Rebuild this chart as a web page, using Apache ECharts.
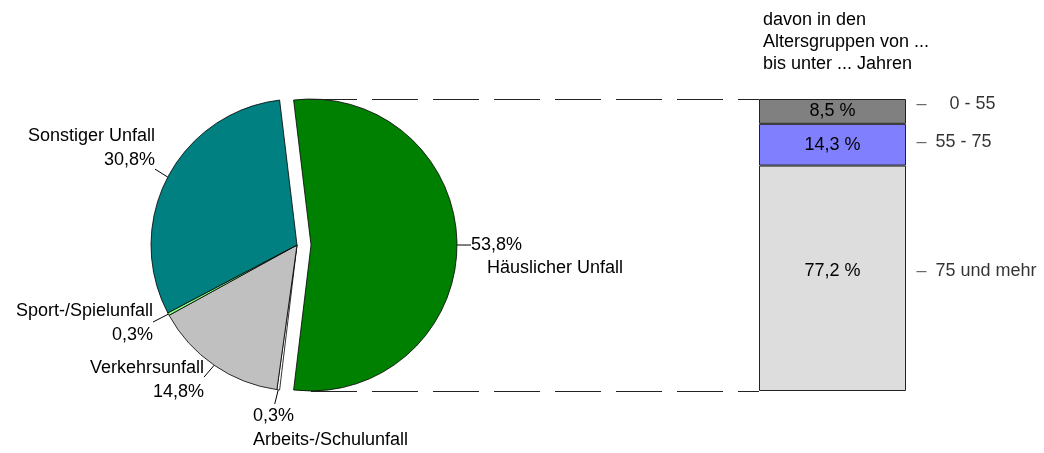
<!DOCTYPE html>
<html>
<head>
<meta charset="utf-8">
<script src="https://cdn.jsdelivr.net/npm/echarts@6/dist/echarts.min.js"></script>
<style>
  html, body { margin: 0; padding: 0; background: #fff; }
  #chart { width: 1044px; height: 453px; }
</style>
</head>
<body>
<div id="chart"></div>
<script>
const accidentTypes = ['Häuslicher Unfall', 'Arbeits-/Schulunfall', 'Verkehrsunfall', 'Sport-/Spielunfall', 'Sonstiger Unfall'];
const accidentShares = [53.8, 0.3, 14.8, 0.3, 30.8];
const ageGroups = ['0 - 55', '55 - 75', '75 und mehr'];
const ageShares = [8.5, 14.3, 77.2];
const barCategory = [''];

const sliceColors = ['#008000', '#ffffff', '#c0c0c0', '#80ff80', '#008080'];
const ageColors = ['#808080', '#8080ff', '#dddddd'];
// where the pie labels sit, anchor = where the leader line meets the label box
const pieLabelPos = [
    {x: 471, y: 234, align: 'left', anchor: [0, 0.24]},
    {x: 253, y: 404, align: 'left', anchor: [0.14, 0]},
    {x: 204, y: 356, align: 'right', anchor: [1, 0.44]},
    {x: 153, y: 299, align: 'right', anchor: [1, 0.48]},
    {x: 155, y: 124, align: 'right', anchor: [1, 0.94]}
];
const ageLabelShift = [-7, -3, -7];
const barLabelShift = [0, 0, -7];
const pieCenter = [297, 245];
const pieRadius = 146;
const explode = 14;

const font = "'Liberation Sans', Arial, sans-serif";
const fmt = v => v.toFixed(1).replace('.', ',');

const chart = echarts.init(document.getElementById('chart'), null, {renderer: 'canvas'});

const pieTotal = accidentShares.reduce((a, b) => a + b, 0);
const startAngle = accidentShares[0] / pieTotal * 360 / 2;

// mid angle of each slice (degrees, clockwise from 3 o'clock)
const midAngles = [];
let run = -startAngle;
accidentShares.forEach((v, i) => {
    const span = v / pieTotal * 360;
    midAngles[i] = run + span / 2;
    run += span;
});

// the first slice is pulled out, so it gets its own pie with a shifted centre
const a0 = midAngles[0] * Math.PI / 180;
const explodedCenter = [pieCenter[0] + Math.cos(a0) * explode, pieCenter[1] + Math.sin(a0) * explode];

const hidden = {
    itemStyle: {color: 'rgba(0,0,0,0)', borderWidth: 0},
    label: {show: false},
    labelLine: {show: false}
};
const pieDataOut = accidentTypes.map((name, i) => Object.assign(
    {name: name, value: accidentShares[i], itemStyle: {color: sliceColors[i]}},
    i === 0 ? {} : hidden
));
const pieDataRest = accidentTypes.map((name, i) => Object.assign(
    {name: name, value: accidentShares[i], itemStyle: {color: sliceColors[i]}},
    i === 0 ? hidden : {}
));

// middle of every bar segment, stack grows from the bottom
const total = ageShares.reduce((a, b) => a + b, 0);
const mids = [];
let acc = 0;
for (let i = ageShares.length - 1; i >= 0; i--) {
    mids[i] = acc + ageShares[i] / 2;
    acc += ageShares[i];
}

const barSeries = ageGroups.map((g, i) => ({
    name: g,
    type: 'bar',
    stack: 'age',
    barWidth: '100%',
    silent: true,
    data: [{value: ageShares[i], label: {offset: [0, barLabelShift[i]]}}],
    itemStyle: {color: ageColors[i], borderColor: '#222', borderWidth: 1},
    label: {
        show: true,
        position: 'inside',
        color: '#000',
        fontFamily: font,
        fontSize: 18,
        formatter: p => fmt(p.value) + ' %'
    }
})).reverse();

function pieLabelLayout(center) {
    return params => {
        const i = params.dataIndex;
        const pos = pieLabelPos[i];
        const w = params.labelRect.width;
        const h = params.labelRect.height;
        const left = pos.align === 'left' ? pos.x : pos.x - w;
        const a = midAngles[i] * Math.PI / 180;
        const sx = center[0] + Math.cos(a) * pieRadius;
        const sy = center[1] + Math.sin(a) * pieRadius;
        const ex = left + pos.anchor[0] * w;
        const ey = pos.y + pos.anchor[1] * h;
        return {
            x: pos.x,
            y: pos.y,
            align: pos.align,
            verticalAlign: 'top',
            labelLinePoints: [[sx, sy], [ex, ey], [ex, ey]]
        };
    };
}

function pieSeries(data, center) {
    return {
        type: 'pie',
        center: center,
        radius: pieRadius,
        startAngle: startAngle,
        clockwise: true,
        avoidLabelOverlap: false,
        silent: true,
        data: data,
        itemStyle: {borderColor: '#000', borderWidth: 0.8},
        label: {
            show: true,
            position: 'outside',
            color: '#000',
            fontFamily: font,
            fontSize: 18,
            lineHeight: 24,
            formatter: p => {
                const v = fmt(p.value) + '%';
                if (p.dataIndex === 0) return '{v|' + v + '}\n{n|' + p.name + '}';
                if (p.dataIndex === 1) return v + '\n' + p.name;
                return p.name + '\n' + v;
            },
            rich: {
                v: {fontFamily: font, fontSize: 18, lineHeight: 23, color: '#000'},
                n: {fontFamily: font, fontSize: 18, lineHeight: 23, color: '#000', padding: [0, 0, 0, 16]}
            }
        },
        labelLine: {show: true, length: 8, length2: 0, lineStyle: {color: '#000', width: 1}},
        labelLayout: pieLabelLayout(center)
    };
}

const options = {
    animation: false,
    title: {
        text: 'davon in den\nAltersgruppen von ...\nbis unter ... Jahren',
        left: 763,
        top: 9,
        padding: 0,
        textStyle: {fontFamily: font, fontSize: 18, lineHeight: 22, fontWeight: 'normal', color: '#000'}
    },
    grid: {left: 759, top: 99, width: 147, height: 292},
    xAxis: {type: 'category', data: barCategory, show: false},
    yAxis: {type: 'value', min: 0, max: total, show: false},
    series: [
        pieSeries(pieDataRest, pieCenter),
        pieSeries(pieDataOut, explodedCenter),
        ...barSeries,
        {
            type: 'scatter',
            symbolSize: 0,
            silent: true,
            clip: false,
            data: ageGroups.map((g, i) => ({
                value: [0, mids[i]],
                label: {offset: [0, ageLabelShift[i]]}
            })),
            label: {
                show: true,
                position: 'right',
                distance: 84,
                fontFamily: font,
                fontSize: 18,
                color: '#000',
                formatter: p => '{d|–}' + (p.dataIndex === 0 ? '{f|' : '{t|') + ageGroups[p.dataIndex] + '}',
                rich: {
                    d: {fontFamily: font, fontSize: 18, color: '#444'},
                    f: {fontFamily: font, fontSize: 18, color: '#000', padding: [0, 0, 0, 23]},
                    t: {fontFamily: font, fontSize: 18, color: '#000', padding: [0, 0, 0, 9]}
                }
            },
            markLine: {
                silent: true,
                symbol: ['none', 'none'],
                label: {show: false},
                lineStyle: {color: '#222', width: 1, type: [46, 15]},
                data: [
                    [{x: explodedCenter[0], yAxis: total}, {x: 759, yAxis: total}],
                    [{x: explodedCenter[0], yAxis: 0}, {x: 759, yAxis: 0}]
                ]
            }
        }
    ]
};

chart.setOption(options);
</script>
</body>
</html>
